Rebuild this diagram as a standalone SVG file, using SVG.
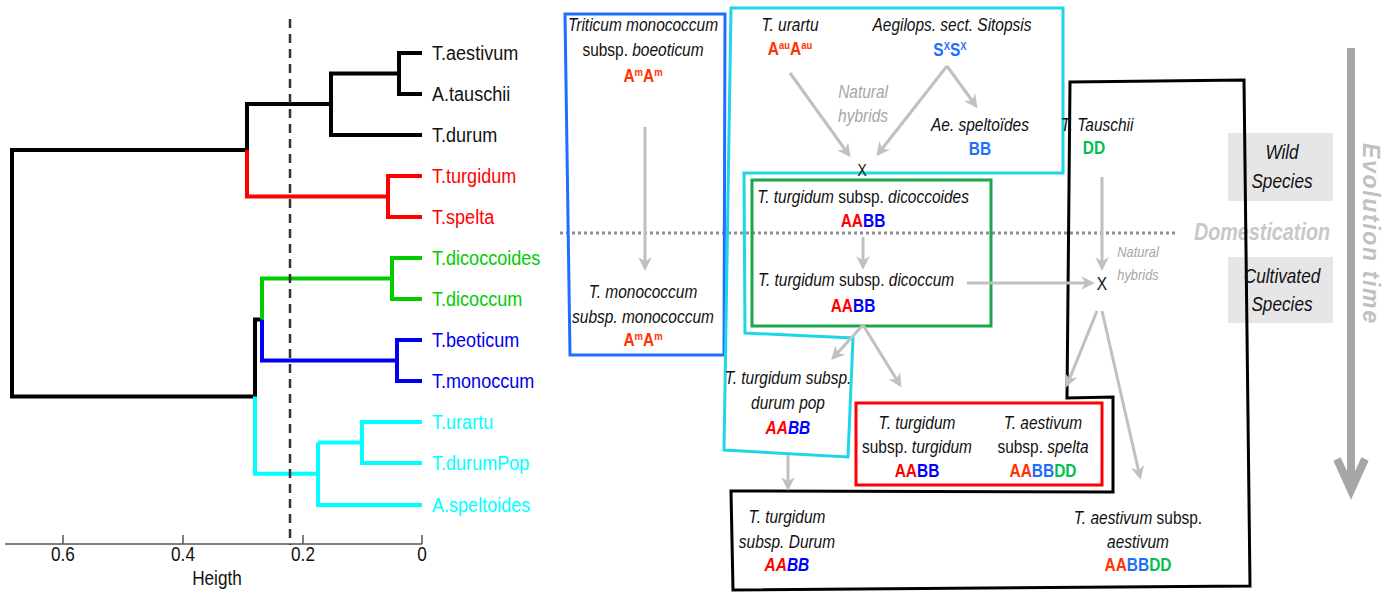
<svg xmlns="http://www.w3.org/2000/svg" width="1383" height="598" viewBox="0 0 1383 598">
<defs>
<style>
text{font-family:"Liberation Sans",Arial,sans-serif;fill:#111}
text:not(.rot){transform-box:fill-box;transform-origin:center;transform:scaleX(0.86)}
text.lab{transform-origin:left center}
.lab{font-size:21px}
.ax{font-size:20px;text-anchor:middle}
.t{font-size:18px;text-anchor:middle}
.i{font-style:italic}
.b{font-weight:bold}
.nh{fill:#a6a6a6;font-style:italic}
.or{fill:#ff3300}.rd{fill:#ff0000}.bl{fill:#0000ff}.lb{fill:#1f6fff}.gr{fill:#00c050}
.sup{font-size:11px}
.br{fill:none;stroke-width:4;stroke-linejoin:miter}
.arr{fill:none;stroke:#c0c0c0;stroke-width:3;marker-end:url(#ah)}
.box{fill:none;stroke-width:3}
</style>
<marker id="ah" viewBox="0 0 10 10" refX="8" refY="5" markerWidth="4.5" markerHeight="4.5" orient="auto" markerUnits="strokeWidth">
<path d="M0,0 L10,5 L0,10 L3,5 Z" fill="#c0c0c0"/>
</marker>
</defs>
<rect width="1383" height="598" fill="#fff"/>

<g id="dendrogram">
<path class="br" stroke="#000" d="M422,53 H399 V94 H422 M399,73.5 H331 V135 H422 M331,104 H247 V150 M247,150 H12 V396.6 H255 V319.5 H262"/>
<path class="br" stroke="#ff0000" d="M247,150 V196.5 H388 M422,176 H388 V217 H422"/>
<path class="br" stroke="#00cc00" d="M262,319.5 V278.5 H392 M422,258 H392 V299 H422"/>
<path class="br" stroke="#0000ee" d="M262,319.5 V360.5 H397 M422,340 H397 V381 H422"/>
<path class="br" stroke="#00ffff" d="M255,396.6 V473.75 H318 M318,442.5 V505 H422 M318,442.5 H362 M422,422 H362 V463 H422"/>
<line x1="290" y1="19" x2="290" y2="545" stroke="#333" stroke-width="2.5" stroke-dasharray="9 6"/>
<g id="leaves">
<text class="lab" x="432" y="60">T.aestivum</text>
<text class="lab" x="432" y="101">A.tauschii</text>
<text class="lab" x="432" y="142">T.durum</text>
<text class="lab" x="432" y="183" style="fill:#ff0000">T.turgidum</text>
<text class="lab" x="432" y="224" style="fill:#ff0000">T.spelta</text>
<text class="lab" x="432" y="265" style="fill:#00cc00">T.dicoccoides</text>
<text class="lab" x="432" y="306" style="fill:#00cc00">T.dicoccum</text>
<text class="lab" x="432" y="347" style="fill:#0000ee">T.beoticum</text>
<text class="lab" x="432" y="388" style="fill:#0000ee">T.monoccum</text>
<text class="lab" x="432" y="429" style="fill:#00ffff">T.urartu</text>
<text class="lab" x="432" y="470" style="fill:#00ffff">T.durumPop</text>
<text class="lab" x="432" y="512" style="fill:#00ffff">A.speltoides</text>
</g>
<g id="axis" stroke="#555" stroke-width="1.5">
<path d="M5,544 H422 M63,544 V535 M183,544 V535 M303,544 V535 M422,544 V535" fill="none"/>
</g>
<text class="ax" x="63" y="561">0.6</text>
<text class="ax" x="183" y="561">0.4</text>
<text class="ax" x="303" y="561">0.2</text>
<text class="ax" x="422" y="561">0</text>
<text class="ax" x="217" y="585">Heigth</text>
</g>

<g id="background">
<rect x="1228" y="133" width="105" height="68" fill="#e6e6e6"/>
<rect x="1228" y="257" width="105" height="66" fill="#e6e6e6"/>
<line x1="560" y1="233" x2="1175" y2="233" stroke="#8c8c8c" stroke-width="3" stroke-dasharray="3 3"/>
<text x="1262" y="240" style="font-size:23px;font-weight:bold;font-style:italic;fill:#c8c8c8;text-anchor:middle">Domestication</text>
<path d="M1351,48 V488" stroke="#a6a6a6" stroke-width="8" fill="none"/>
<path d="M1337,459 L1351,490 L1365,459" stroke="#a6a6a6" stroke-width="8" fill="none" stroke-linejoin="miter"/>
<text class="rot" transform="translate(1363,233) rotate(90)" style="font-size:23px;font-weight:bold;font-style:italic;fill:#c0c0c0;text-anchor:middle" textLength="180" lengthAdjust="spacing">Evolution time</text>
</g>

<g id="box-monococcum">
<polygon class="box" stroke="#1f6fff" points="565,14 725,14 724,355 570,355"/>
<text class="t i" x="643" y="31">Triticum monococcum</text>
<text class="t" x="643" y="56">subsp. <tspan class="i">boeoticum</tspan></text>
<text class="t b or" x="643" y="82">A<tspan class="sup" dy="-6">m</tspan><tspan dy="6">A</tspan><tspan class="sup" dy="-6">m</tspan></text>
<text class="t i" x="643" y="298">T. monococcum</text>
<text class="t i" x="643" y="323">subsp. monococcum</text>
<text class="t b or" x="643" y="346">A<tspan class="sup" dy="-6">m</tspan><tspan dy="6">A</tspan><tspan class="sup" dy="-6">m</tspan></text>
</g>

<g id="box-cyan">
<polygon class="box" stroke="#1ed6e6" points="731,8 1063,8 1063,173 744,173 745,333 853,338 848,457 724,450"/>
<text class="t i" x="790" y="31">T. urartu</text>
<text class="t b or" x="790" y="55">A<tspan class="sup" dy="-6">au</tspan><tspan dy="6">A</tspan><tspan class="sup" dy="-6">au</tspan></text>
<text class="t i" x="952" y="31">Aegilops. sect. Sitopsis</text>
<text class="t b lb" x="950" y="56">S<tspan class="sup" dy="-6">X</tspan><tspan dy="6">S</tspan><tspan class="sup" dy="-6">X</tspan></text>
<text class="t nh" x="863" y="98">Natural</text>
<text class="t nh" x="863" y="122">hybrids</text>
<text class="t i" x="980" y="131">Ae. speltoïdes</text>
<text class="t b lb" x="980" y="155">BB</text>
<text class="t" x="862" y="176" style="font-size:16px">X</text>
<text class="t i" x="788" y="384">T. turgidum subsp.</text>
<text class="t i" x="788" y="409">durum pop</text>
<text class="t i b" x="788" y="434"><tspan class="rd">AA</tspan><tspan class="bl">BB</tspan></text>
</g>

<g id="box-green">
<rect class="box" stroke="#1ca64c" x="752" y="180" width="239" height="146"/>
<text class="t" x="863" y="203"><tspan class="i">T. turgidum</tspan> subsp. <tspan class="i">dicoccoides</tspan></text>
<text class="t b" x="863" y="227"><tspan class="rd">AA</tspan><tspan class="bl">BB</tspan></text>
<text class="t" x="856" y="286"><tspan class="i">T. turgidum</tspan> subsp. <tspan class="i">dicoccum</tspan></text>
<text class="t b" x="853" y="312"><tspan class="rd">AA</tspan><tspan class="bl">BB</tspan></text>
</g>

<g id="box-black">
<polygon class="box" stroke="#000" points="1070,82 1244,80 1250,586 733,590 731,491 1113,492 1113,397 1067,398"/>
<text class="t i" x="1097" y="131">T. Tauschii</text>
<text class="t b gr" x="1094" y="154">DD</text>
<text class="t nh" x="1138" y="257" style="font-size:15px">Natural</text>
<text class="t nh" x="1138" y="280" style="font-size:15px">hybrids</text>
<text class="t" x="1102" y="290">X</text>
<text class="t i" x="787" y="523">T. turgidum</text>
<text class="t i" x="787" y="548">subsp. Durum</text>
<text class="t i b" x="787" y="571"><tspan class="rd">AA</tspan><tspan class="bl">BB</tspan></text>
<text class="t" x="1138" y="524"><tspan class="i">T. aestivum</tspan> subsp.</text>
<text class="t i" x="1138" y="548">aestivum</text>
<text class="t b" x="1138" y="571"><tspan class="or">AA</tspan><tspan class="lb">BB</tspan><tspan class="gr">DD</tspan></text>
</g>

<g id="box-red">
<rect class="box" stroke="#ff0000" x="856" y="403" width="246" height="82"/>
<text class="t i" x="917" y="429">T. turgidum</text>
<text class="t" x="917" y="453">subsp. <tspan class="i">turgidum</tspan></text>
<text class="t b" x="917" y="477"><tspan class="rd">AA</tspan><tspan class="bl">BB</tspan></text>
<text class="t i" x="1043" y="429">T. aestivum</text>
<text class="t" x="1043" y="453">subsp. <tspan class="i">spelta</tspan></text>
<text class="t b" x="1043" y="477"><tspan class="or">AA</tspan><tspan class="lb">BB</tspan><tspan class="gr">DD</tspan></text>
</g>

<g id="box-side">
<text class="t i" x="1282" y="159" style="font-size:20px">Wild</text>
<text class="t i" x="1282" y="188" style="font-size:20px">Species</text>
<text class="t i" x="1282" y="283" style="font-size:20px">Cultivated</text>
<text class="t i" x="1282" y="311" style="font-size:20px">Species</text>
</g>

<g id="connectors">
<line class="arr" x1="645" y1="127" x2="645" y2="268"/>
<line class="arr" x1="790" y1="73" x2="849" y2="155"/>
<line class="arr" x1="947" y1="66" x2="878" y2="154"/>
<line class="arr" x1="947" y1="66" x2="976" y2="106"/>
<line class="arr" x1="863" y1="237" x2="863" y2="267"/>
<line class="arr" x1="967" y1="283" x2="1092" y2="283"/>
<line class="arr" x1="1102" y1="177" x2="1102" y2="268"/>
<line class="arr" x1="1097" y1="311" x2="1067" y2="385"/>
<line class="arr" x1="1102" y1="311" x2="1140" y2="477"/>
<line class="arr" x1="863" y1="325" x2="833" y2="358"/>
<line class="arr" x1="863" y1="325" x2="900" y2="385"/>
<line class="arr" x1="788" y1="455" x2="788" y2="488"/>
</g>
</svg>
